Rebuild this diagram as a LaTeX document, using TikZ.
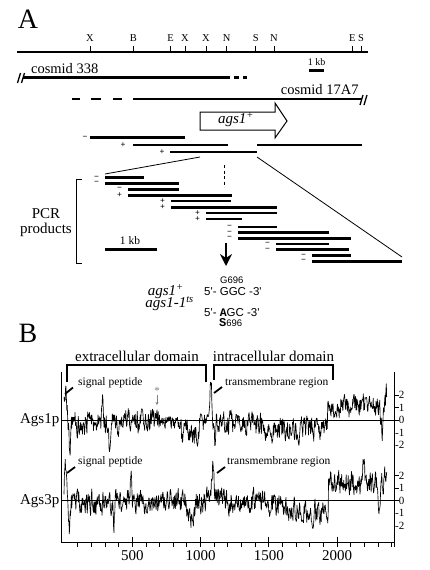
\documentclass[tikz,border=0pt]{standalone}
\usepackage{fontspec}
\setmainfont{Liberation Serif}
\newfontfamily\sfx{Liberation Sans}
\newfontfamily\monox{Liberation Mono}
\usetikzlibrary{arrows.meta}
\newcommand\fs[1]{\fontsize{#1}{#1}\selectfont}
\newcommand\buildtrace[4]{%
  \pgfmathsetseed{#2}%
  \gdef\tvprev{0}\gdef\tlist{}%
  \foreach \r in {0,3,...,2364}{%
    \pgfmathsetmacro\nv{0.45*\tvprev+0.8*rand}%
    \xdef\tvprev{\nv}%
    \pgfmathsetmacro\py{#3+(#4)*\nv}%
    \pgfmathsetmacro\px{64+0.1365*\r}%
    \xdef\tlist{\tlist(\px,\py)}%
  }%
  \global\let#1\tlist}
\begin{document}
\begin{tikzpicture}[x=1pt,y=-1pt,
  bar/.style={line width=2.7pt},
  lnthin/.style={line width=0.8pt},
  brk/.style={line width=1.4pt},
  ptr/.style={line width=1.8pt},
  trace/.style={line width=0.65pt,line join=round},
  pm/.style={inner sep=0pt,font=\fs{8.5}\bfseries},
  declare function={bump(\xx,\cc,\ww,\hh)=\hh*exp(-1*((min(abs(\xx-\cc),3*\ww)/\ww)^2));}]
\useasboundingbox (0,0) rectangle (429,570);
% ---------------- Panel A
\node[font=\fs{28}] (lblA) at (28,19) {A};
\draw[line width=2.4pt] (17,51.7) coordinate (mapL) -- (368,51.7) coordinate (mapR);
\foreach \xp/\lb [count=\i] in {90/X,133.3/B,170.7/E,185/X,206/X,226.7/N,255.7/S,274/N,352.3/E,361/S}{
  \draw[line width=1pt] (\xp,51.7) -- (\xp,46);
  \node[font=\fs{10.5},inner sep=0pt] (site\i) at (\xp,38.5) {\lb};
}
\node[font=\fs{10},inner sep=0pt] (kbtop) at (316.5,62) {1 kb};
\draw[bar] (309,70.7) -- (324,70.7);
% cosmid 338
\node[font=\fs{14.5},inner sep=0pt] (c338) at (64.7,68.5) {cosmid 338};
\draw[bar] (23,77.3) -- (230,77.3);
\draw[bar] (234,77.3) -- (239,77.3);
\draw[bar] (243,77.3) -- (247,77.3);
\draw[line width=1.3pt] (17.5,83) -- (20.5,73) (21.5,83) -- (24.5,73);
% cosmid 17A7
\node[font=\fs{14.5},inner sep=0pt] (c17) at (319.7,90) {cosmid 17A7};
\draw[bar] (72,99) -- (80,99);
\draw[bar] (91,99) -- (101,99);
\draw[bar] (113,99) -- (122,99);
\draw[bar] (133,99) -- (362,99);
\draw[line width=1.3pt] (360,105) -- (363,95) (364,105) -- (367,95);
% gene arrow
\draw[line width=1pt,fill=white] (200,112) -- (275,112) -- (275,103) -- (287,121) -- (275,138) -- (275,130) -- (200,130) -- cycle;
\node[font=\fs{15}\itshape,inner sep=0pt] (gene) at (236,120) {ags1\textsuperscript{+}};
% fragments
\node[pm] (fm1) at (85,137.7) {−};
\draw[bar] (90,137.7) -- (185,137.7);
\node[pm] (fp1) at (123,145) {+};
\draw[bar] (133,145) -- (228,145);
\draw[bar] (257,145) -- (362,145);
\node[pm] (fp2) at (162,152) {+};
\draw[bar] (170,152) -- (257,152);
% expansion lines
\coordinate (eL1) at (200,157);
\coordinate (eL2) at (105,174);
\coordinate (eR1) at (257,157);
\coordinate (eR2) at (402,257);
\draw[lnthin] (eL1) -- (eL2);
\draw[lnthin] (eR1) -- (eR2);
\draw[lnthin,dash pattern=on 3pt off 2.5pt] (224,165) -- (224,187);
% bracket and label
\draw[lnthin] (82,179) -- (76,179) -- (76,263) -- (82,263);
\node[font=\fs{15},align=center,inner sep=0pt] (pcr) at (46,223) {\fontsize{15}{18}\selectfont PCR\\products};
% PCR bars
\foreach \sg/\xa/\xb/\yy [count=\i] in {
  −/105/144/177.7, −/105/179/183.3, −/128/179/189.3, +/128/232/195.5,
  +/171/231/201, +/171/277/207.5, +/206/277/213, +/206/242/219,
  −/238/277/227, −/238/329/232.5, −/238/351/238.3, −/276/329/243.8,
  −/276/349/249.7, −/312/351/255.7, −/312/402/261.3}{
  \node[pm] (pcrs\i) at (\xa-8.5,\yy) {\sg};
  \draw[line width=2.5pt] (\xa,\yy) -- (\xb,\yy);
}
\node[font=\fs{11.5},inner sep=0pt] (kbbot) at (130,241) {1 kb};
\draw[bar] (105,249.3) -- (157,249.3);
\coordinate (arT) at (226,243);
\coordinate (arB) at (226,266);
\draw[line width=1.6pt,-{Stealth[length=12pt,width=12pt,inset=4pt]}] (arT) -- (arB);
% sequences
\node[font=\sfx\fs{9.5},inner sep=0pt,anchor=west] (g696) at (220,280) {G696};
\node[font=\fs{15}\itshape,inner sep=0pt,anchor=east] (wt) at (184,292) {ags1\textsuperscript{+}};
\node[font=\sfx\fs{11.5},inner sep=0pt,anchor=west] (seqwt) at (204,292) {5'- GGC -3'};
\node[font=\fs{15}\itshape,inner sep=0pt,anchor=east] (ts) at (194,304) {ags1-1\textsuperscript{ts}};
\node[font=\sfx\fs{11.5},inner sep=0pt,anchor=west] (seqts) at (204,313) {5'- {\monox\bfseries A}GC -3'};
\node[font=\sfx\fs{9.5},inner sep=0pt,anchor=west] (s696) at (219,322.5) {{\monox\bfseries\fs{12}S}696};
% ---------------- Panel B
\node[font=\fs{28}] (lblB) at (28,333) {B};
\node[font=\fs{15},inner sep=0pt] (extra) at (137,356.5) {extracellular domain};
\node[font=\fs{15},inner sep=0pt] (intra) at (273.5,356.5) {intracellular domain};
\draw[brk] (67,382) -- (67,365) -- (206,365) -- (206,382);
\draw[brk] (214,380) -- (214,365) -- (333,365) -- (333,380);
% axes
\draw[line width=1pt] (61,372) -- (61,542) -- (394,542);
\draw[line width=1pt] (394,372) -- (394,547);
\foreach \k in {1,...,24}{
  \pgfmathsetmacro\tx{64+13.65*\k}
  \draw[line width=0.8pt] (\tx,542) -- (\tx,546.5);
}
\foreach \k in {500,1000,1500,2000}{
  \pgfmathsetmacro\tx{64+0.1365*\k}
  \draw[line width=0.9pt] (\tx,537) -- (\tx,547);
  \node[font=\fs{15},inner sep=0pt] (tick\k) at (\tx,555.5) {\k};
}
% zero lines
\draw[line width=1pt] (61,420) -- (394,420);
\draw[line width=1pt] (61,500.5) -- (394,500.5);
% right scale labels
\foreach \zy/\nm in {420/a,500.5/b}{
  \foreach \v/\t in {2/\phantom{-}2,1/\phantom{-}1,0/\phantom{-}0,-1/-1,-2/-2}{
    \pgfmathsetmacro\ty{\zy-12.5*\v}
    \draw[line width=0.8pt] (394,\ty) -- ({\v<0 ? 394 : 398.5},\ty);
    \node[font=\fs{11},inner sep=0pt,anchor=west] at (395,\ty) {\t};
  }
}
\node[font=\fs{15},inner sep=0pt,anchor=east] (ags1p) at (59.5,420.5) {Ags1p};
\node[font=\fs{15},inner sep=0pt,anchor=east] (ags3p) at (59.5,501) {Ags3p};
% traces
\buildtrace\trA{17}{-0.25+bump(\r,12,14,2.9)-bump(\r,42,8,2.2)+bump(\r,285,8,1.5)-bump(\r,330,8,2.0)+bump(\r,470,8,1.6)-(\r>860)*(\r<990)*0.8+bump(\r,1075,12,3.0)-bump(\r,1105,6,1.5)-(\r>1450)*(\r<1930)*0.5+(\r>1930)*1.4-bump(\r,2330,10,2.2)+bump(\r,2362,6,1.0)}{1-0.5*(\r>700)*(\r<860)}
\buildtrace\trB{29}{-0.1+bump(\r,10,12,2.5)-bump(\r,40,8,2.2)-bump(\r,365,5,2.8)+bump(\r,490,8,1.8)-bump(\r,935,25,1.2)+bump(\r,1092,12,3.0)-(\r>1400)*(\r<1935)*(\r-1400)/530+(\r>1935)*1.5+bump(\r,2195,8,1.8)-bump(\r,2310,10,2.2)+bump(\r,2355,8,0.8)}{1}
\begin{scope}[shift={(0,420)},y=12.5pt]
\edef\tmpcmd{\noexpand\draw[trace] plot coordinates {\trA};}\tmpcmd
\end{scope}
\begin{scope}[shift={(0,500.5)},y=12.5pt]
\edef\tmpcmd{\noexpand\draw[trace] plot coordinates {\trB};}\tmpcmd
\end{scope}
% annotations
\node[font=\fs{11.5},inner sep=0pt,anchor=west] (sp1) at (78,382.5) {signal peptide};
\draw[ptr] (65,394) -- (73,387.5);
\node[font=\fs{11.5},inner sep=0pt,anchor=west] (tm1) at (225,382.5) {transmembrane region};
\draw[ptr] (214,393) -- (222,387);
\node[font=\fs{11.5},inner sep=0pt,anchor=west] (sp3) at (78,461.5) {signal peptide};
\draw[ptr] (67,473) -- (75,467);
\node[font=\fs{11.5},inner sep=0pt,anchor=west] (tm3) at (227,461.5) {transmembrane region};
\draw[ptr] (217,473) -- (225,467);
\node[font=\fs{11},inner sep=0pt,text=gray] (ast) at (157,391) {*};
\draw[gray,line width=0.6pt,-{Stealth[length=3pt,width=3pt]}] (ast.south) -- (157,405);
\end{tikzpicture}
\end{document}
